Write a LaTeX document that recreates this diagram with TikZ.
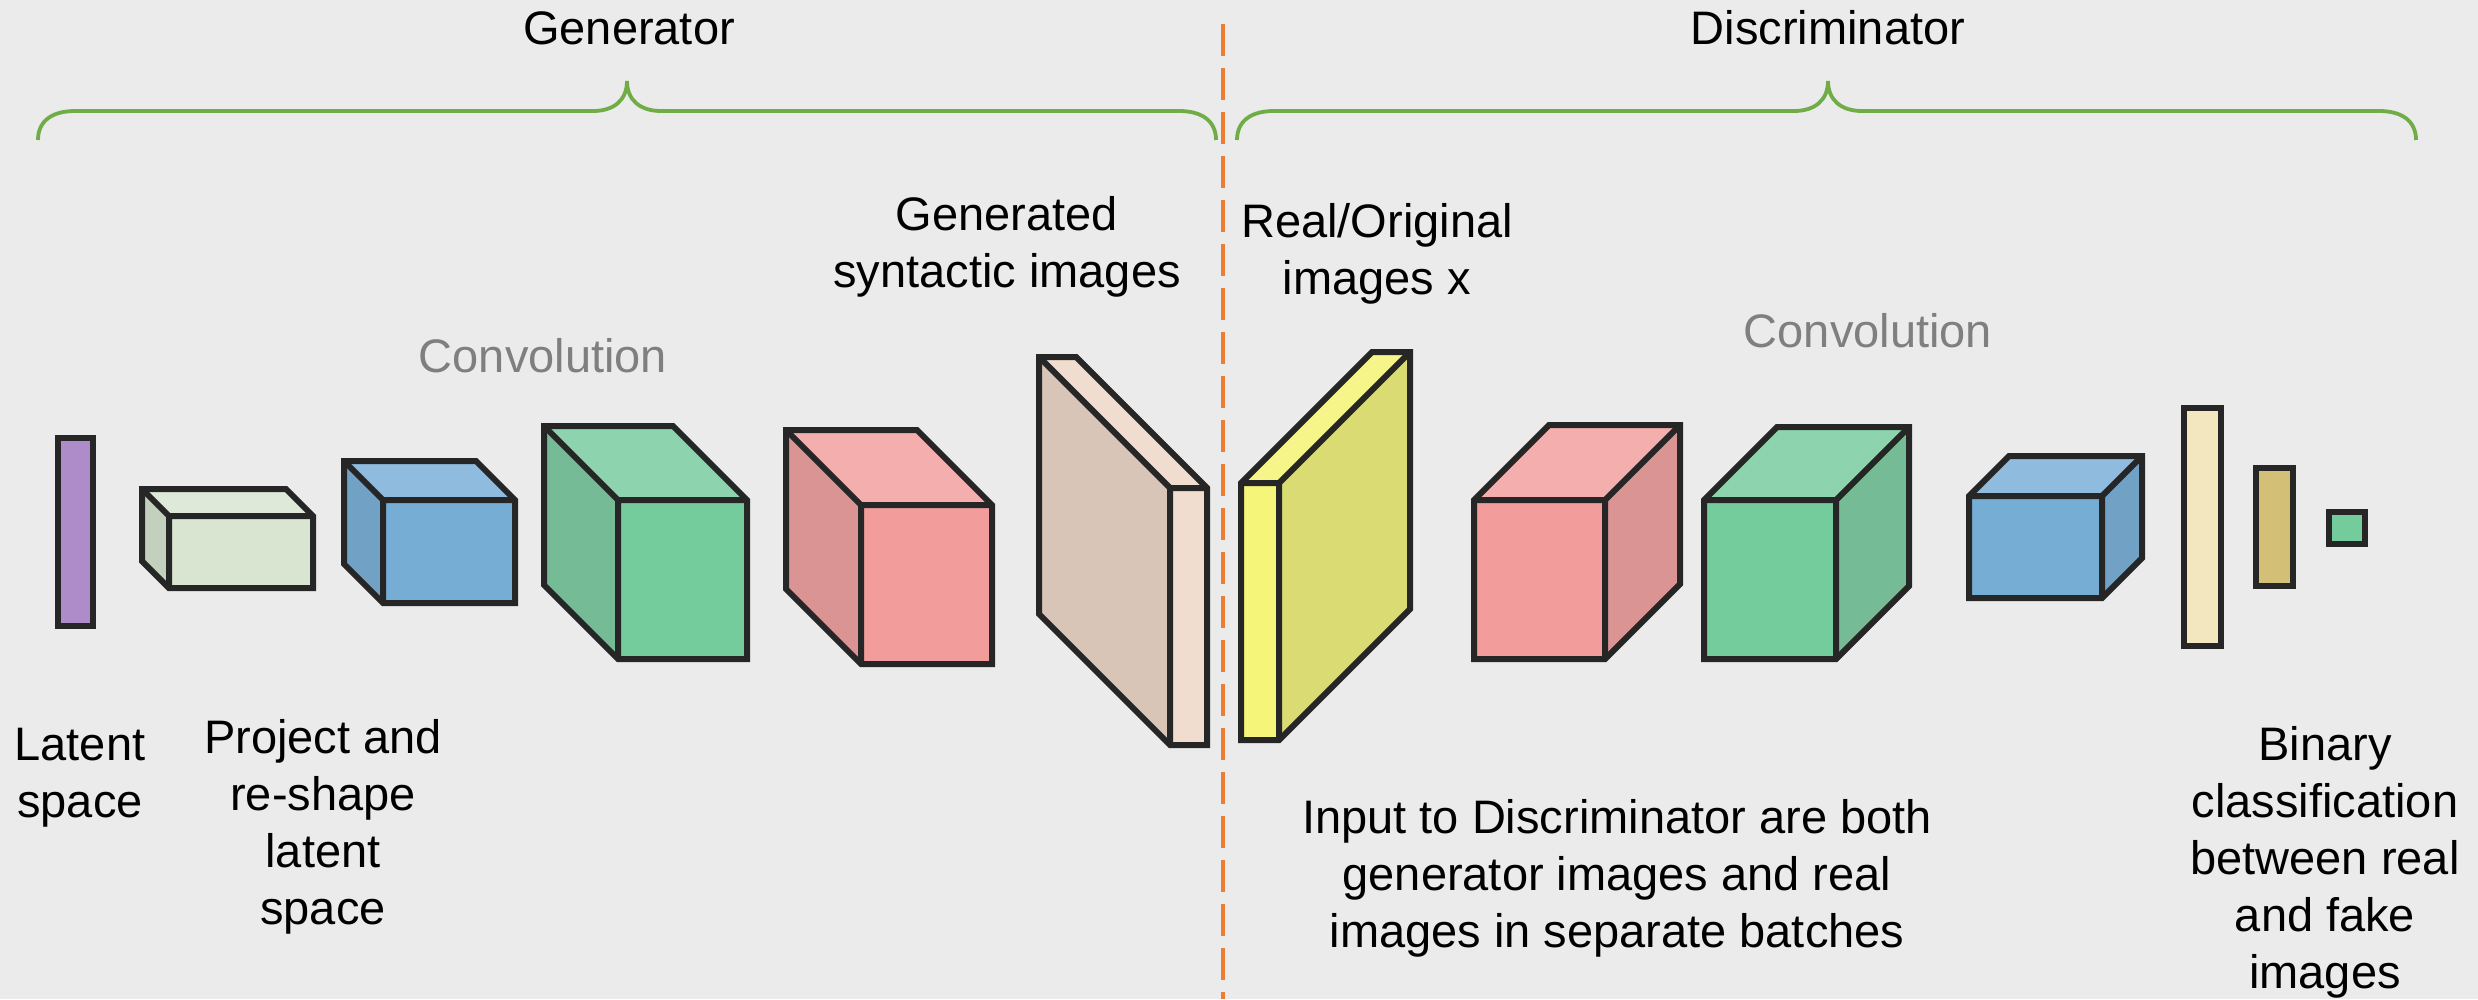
\documentclass[tikz,border=0pt]{standalone}
\usepackage{fontspec}
\setmainfont{Liberation Sans}
\definecolor{bg}{HTML}{EBEBEB}
\definecolor{edge}{HTML}{262626}
\definecolor{brace}{HTML}{70AD47}
\definecolor{split}{HTML}{ED7D31}
\definecolor{graytxt}{HTML}{7F7F7F}
\definecolor{purpleF}{HTML}{AE8BC9}
\definecolor{paleF}{HTML}{D9E5D0}
\definecolor{paleT}{HTML}{DEE9DA}
\definecolor{paleS}{HTML}{C4D0BE}
\definecolor{blueF}{HTML}{76ADD5}
\definecolor{blueT}{HTML}{8FBBDE}
\definecolor{blueS}{HTML}{72A1C6}
\definecolor{greenF}{HTML}{74CC9C}
\definecolor{greenT}{HTML}{8DD4AE}
\definecolor{greenS}{HTML}{75BB95}
\definecolor{pinkF}{HTML}{F29C9C}
\definecolor{pinkT}{HTML}{F5AEAE}
\definecolor{pinkS}{HTML}{DB9494}
\definecolor{brownF}{HTML}{F0DDD0}
\definecolor{brownS}{HTML}{D9C5B8}
\definecolor{yellowF}{HTML}{F5F57A}
\definecolor{yellowT}{HTML}{F5F58A}
\definecolor{yellowS}{HTML}{DBDB74}
\definecolor{beigeF}{HTML}{F3E7BF}
\definecolor{tanF}{HTML}{D4BF76}

% Cuboid whose depth recedes to the upper left.
% #1,#2 = front top-left, #3,#4 = front bottom-right, #5 = depth,
% #6 = front colour, #7 = top colour, #8 = side colour
\newcommand{\cuboidL}[8]{%
  \fill[#8] (#1,#2) -- (#1,#4) -- (#1-#5,#4-#5) -- (#1-#5,#2-#5) -- cycle;
  \fill[#7] (#1,#2) -- (#3,#2) -- (#3-#5,#2-#5) -- (#1-#5,#2-#5) -- cycle;
  \fill[#6] (#1,#2) rectangle (#3,#4);
  \draw[blockedge] (#1-#5,#2-#5) -- (#1,#2) -- (#3,#2) (#1,#2) -- (#1,#4);
  \draw[blockedge] (#1,#4) -- (#1-#5,#4-#5) -- (#1-#5,#2-#5) -- (#3-#5,#2-#5)
    -- (#3,#2) -- (#3,#4) -- cycle;
}
% Cuboid whose depth recedes to the upper right.
\newcommand{\cuboidR}[8]{%
  \fill[#8] (#3,#2) -- (#3,#4) -- (#3+#5,#4-#5) -- (#3+#5,#2-#5) -- cycle;
  \fill[#7] (#1,#2) -- (#3,#2) -- (#3+#5,#2-#5) -- (#1+#5,#2-#5) -- cycle;
  \fill[#6] (#1,#2) rectangle (#3,#4);
  \draw[blockedge] (#1,#2) -- (#3,#2) -- (#3+#5,#2-#5) (#3,#2) -- (#3,#4);
  \draw[blockedge] (#1,#2) -- (#1+#5,#2-#5) -- (#3+#5,#2-#5) -- (#3+#5,#4-#5)
    -- (#3,#4) -- (#1,#4) -- cycle;
}

\begin{document}
\begin{tikzpicture}[x=1pt, y=-1pt,
  blockedge/.style={draw=edge, line width=6pt, line join=miter},
  bracket/.style={draw=brace, line width=3.8pt},
  label/.style={inner sep=0pt, anchor=base, align=center,
    font=\fontsize{47}{57}\selectfont, text=black},
  graylabel/.style={label, text=graytxt}]

\useasboundingbox (0,0) rectangle (2478,999);
\fill[bg] (0,0) rectangle (2478,999);

% section titles
\node[label] (gen) at (629,44) {Generator};
\node[label] (disc) at (1828,44) {Discriminator};

% curly brackets under the titles
\draw[bracket] (38,140) .. controls (38,121) and (52,111) .. (75,111)
  -- (593,111) .. controls (614,111) and (627,100) .. (627,81)
  .. controls (627,100) and (640,111) .. (661,111)
  -- (1179,111) .. controls (1202,111) and (1216,121) .. (1216,140);
\draw[bracket] (1237,140) .. controls (1237,121) and (1251,111) .. (1274,111)
  -- (1794,111) .. controls (1815,111) and (1828,100) .. (1828,81)
  .. controls (1828,100) and (1841,111) .. (1862,111)
  -- (2379,111) .. controls (2402,111) and (2416,121) .. (2416,140);

% boundary between the two networks
\draw[split, line width=3.5pt, dash pattern=on 32pt off 12pt] (1223,24) -- (1223,999);

% generator
\filldraw[blockedge, fill=purpleF] (58,438) rectangle (93,626);
\cuboidL{169}{516}{313}{588}{27}{paleF}{paleT}{paleS}
\cuboidL{383}{500}{515}{603}{39}{blueF}{blueT}{blueS}
\cuboidL{618}{500}{747}{659}{74}{greenF}{greenT}{greenS}
\cuboidL{861}{505}{992}{664}{75}{pinkF}{pinkT}{pinkS}
\cuboidL{1170}{488}{1207}{745}{131}{brownF}{brownF}{brownS}

% discriminator
\cuboidR{1241}{483}{1279}{740}{131}{yellowF}{yellowT}{yellowS}
\cuboidR{1474}{500}{1605}{659}{75}{pinkF}{pinkT}{pinkS}
\cuboidR{1704}{500}{1836}{659}{73}{greenF}{greenT}{greenS}
\cuboidR{1969}{496}{2102}{598}{40}{blueF}{blueT}{blueS}
\filldraw[blockedge, fill=beigeF] (2184,408) rectangle (2221,646);
\filldraw[blockedge, fill=tanF] (2256,468) rectangle (2293,586);
\filldraw[blockedge, fill=greenF] (2329,512) rectangle (2365,544);

% captions (anchored on the baseline of their last line)
\node[label] (latent) at (80,817) {Latent\\space};
\node[label] (project) at (323,924) {Project and\\re-shape\\latent\\space};
\node[graylabel] (convg) at (543,372) {Convolution};
\node[label] (generated) at (1007,287) {Generated\\syntactic images};
\node[label] (real) at (1377,294) {Real/Original\\images x};
\node[graylabel] (convd) at (1868,347) {Convolution};
\node[label] (input) at (1617,947) {Input to Discriminator are both\\generator images and real\\images in separate batches};
\node[label] (binary) at (2325,988) {Binary\\classification\\between real\\and fake\\images};
\end{tikzpicture}
\end{document}
